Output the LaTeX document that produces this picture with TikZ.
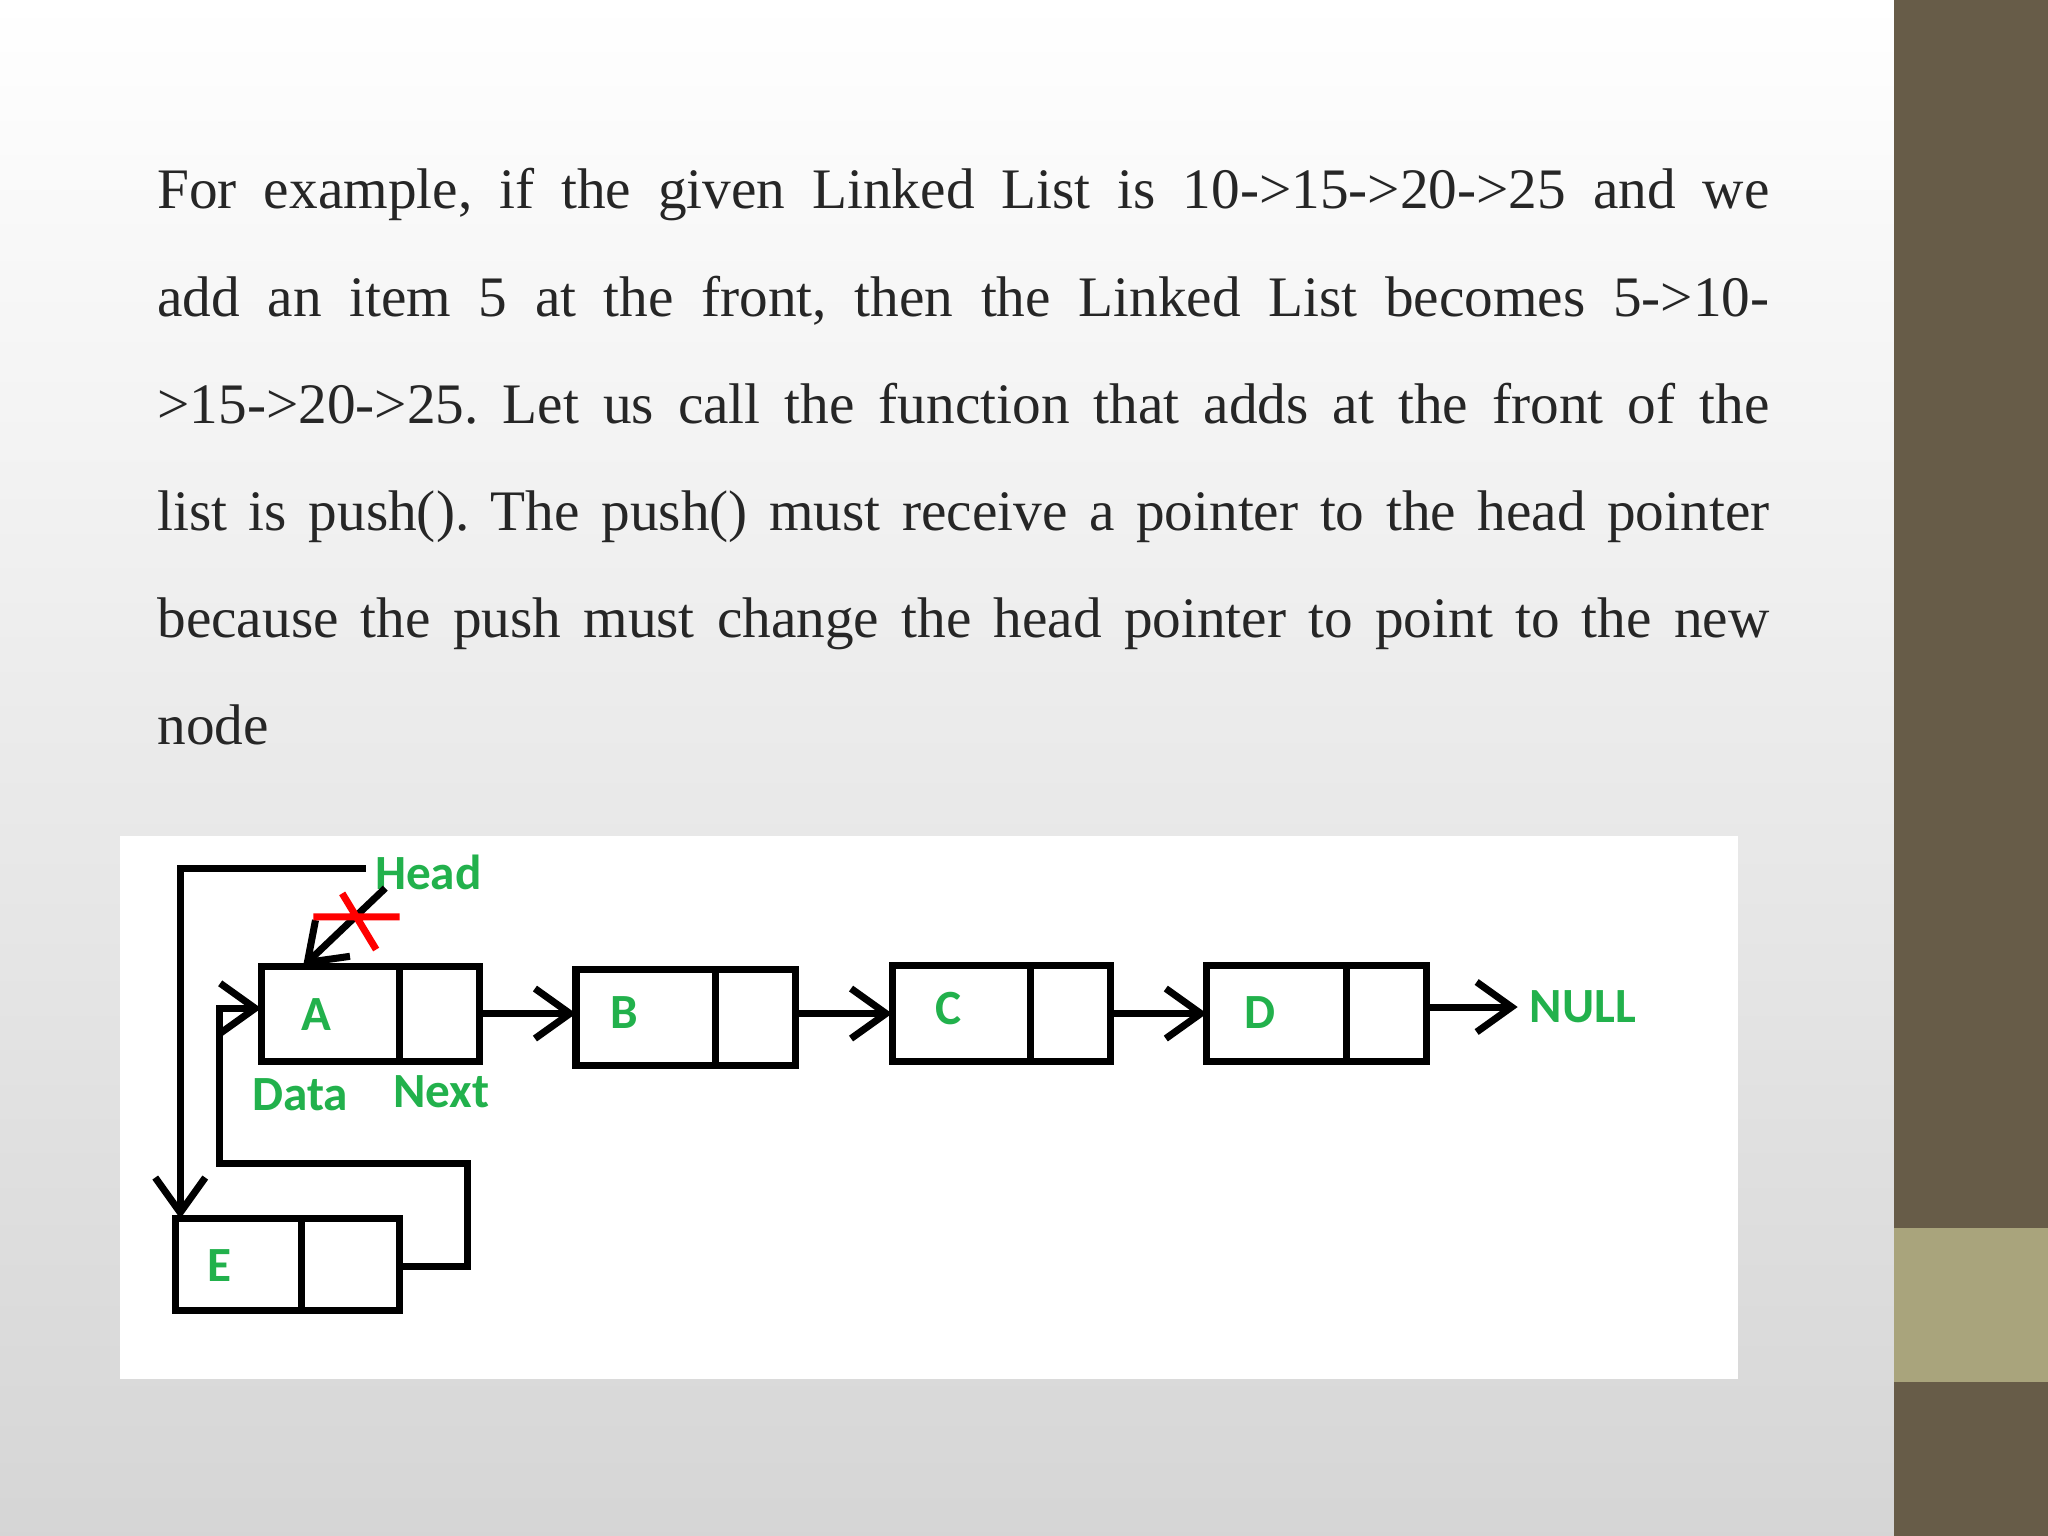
\documentclass[tikz,border=0pt]{standalone}
\usepackage{fontspec}
\setmainfont{Liberation Serif}
\newfontfamily\lblfont{Carlito}
\usetikzlibrary{arrows.meta}
\definecolor{lblgreen}{HTML}{22B14C}
\definecolor{bardark}{HTML}{675C48}
\definecolor{barlight}{HTML}{A9A47C}
\definecolor{txtcol}{HTML}{262626}
\frenchspacing
\begin{document}
\begin{tikzpicture}[x=0.01306cm,y=-0.01306cm,
  lbl/.style={text=lblgreen,font=\lblfont\bfseries\fontsize{14}{17}\selectfont},
  ptr/.style={line width=2pt,-{Straight Barb[length=3.5mm,width=5mm,line width=2pt]}},
  dcell/.style={draw,line width=2pt},
  txt/.style={anchor=base west,inner sep=0pt,text=txtcol,font=\fontsize{16.3}{18}\selectfont}]
\useasboundingbox (0,0) rectangle (1568,1176);
\shade[left color=white,right color=gray!35,shading angle=0] (0,0) rectangle (1450,1176);
\shade[top color=white,bottom color=gray!30,opacity=0.5] (0,0) rectangle (1450,1176);
\fill[bardark] (1450,0) rectangle (1568,1176);
\fill[barlight] (1450,940) rectangle (1568,1058);
% text
\foreach \y/\t in {160/{For example, if the given Linked List is 10->15->20->25 and we},
  242/{add an item 5 at the front, then the Linked List becomes 5->10-},
  324/{>15->20->25. Let us call the function that adds at the front of the},
  406/{list is push(). The push() must receive a pointer to the head pointer},
  488/{because the push must change the head pointer to point to the new}}
  \node[txt] at (120,\y) {\frenchspacing\makebox[16.12cm][s]{\t}};
\node[txt] (last) at (120,570) {node};
% diagram
\fill[white] (92,640) rectangle (1331,1056);
\draw[dcell] (200,740) rectangle (367,813); \draw[dcell] (306,740)--(306,813);
\draw[dcell] (441,742) rectangle (609,816); \draw[dcell] (548,742)--(548,816);
\draw[dcell] (683,739) rectangle (850,813); \draw[dcell] (789,739)--(789,813);
\draw[dcell] (924,739) rectangle (1092,813); \draw[dcell] (1031,739)--(1031,813);
\draw[dcell] (134,933) rectangle (306,1003); \draw[dcell] (231,933)--(231,1003);
\node[lbl] (a) at (242,777) {A};
\node[lbl] (b) at (478,775) {B};
\node[lbl] (c) at (726,772) {C};
\node[lbl] (d) at (965,775) {D};
\node[lbl] (e) at (168,969) {E};
\node[lbl] (data) at (230,838) {Data};
\node[lbl] (next) at (338,836) {Next};
\node[lbl] (head) at (328,668) {Head};
\node[lbl] (null) at (1212,771) {NULL};
\coordinate (aR) at (367,776); \coordinate (bL) at (441,776);
\coordinate (bR) at (609,776); \coordinate (cL) at (683,776);
\coordinate (cR) at (850,776); \coordinate (dL) at (924,776);
\coordinate (dR) at (1092,771); \coordinate (nL) at (1162,771);
\draw[ptr] (aR)--(bL);
\draw[ptr] (bR)--(cL);
\draw[ptr] (cR)--(dL);
\draw[ptr] (dR)--(nL);
\draw[ptr] (280,665)--(138,665)--(138,933);
\draw[ptr] (295,680)--(232,740);
\draw[ptr] (306,970)--(358,970)--(358,891)--(168,891)--(168,772)--(200,772);
\draw[red,line width=2pt] (240,702)--(306,702) (262,684)--(288,727);
\end{tikzpicture}
\end{document}
